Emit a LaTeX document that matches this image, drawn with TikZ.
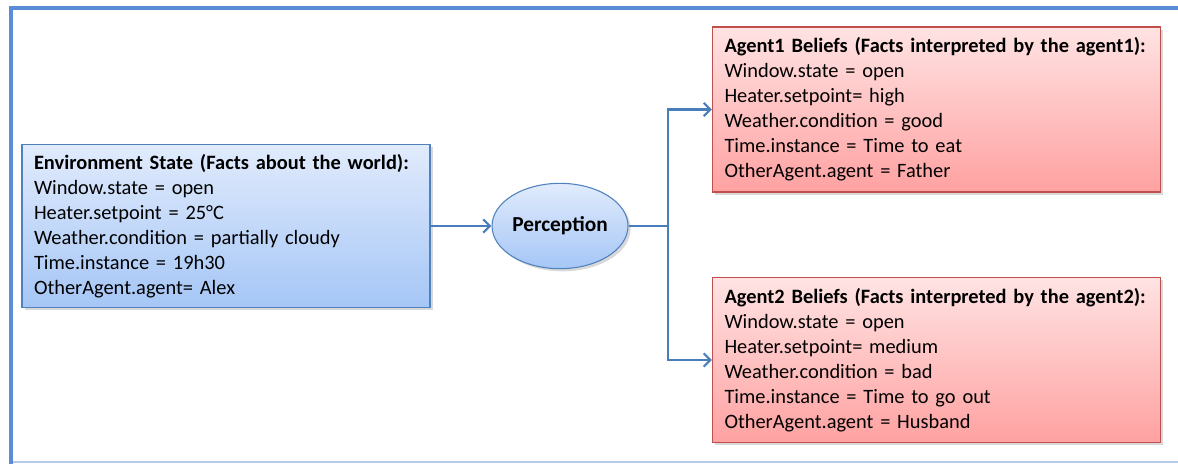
\documentclass[tikz,border=0pt]{standalone}
\usepackage{fontspec}
\setmainfont{Carlito}
\usetikzlibrary{arrows.meta,positioning,shapes.geometric,shadows}
\definecolor{frameblue}{HTML}{5B8DD6}
\definecolor{envline}{HTML}{4F81BD}
\definecolor{envtop}{HTML}{E1EBFC}
\definecolor{envbottom}{HTML}{A5C6F6}
\definecolor{agentline}{HTML}{C0504D}
\definecolor{agenttop}{HTML}{FFE3E3}
\definecolor{agentbottom}{HTML}{FFA1A1}
\definecolor{arrowblue}{HTML}{4A7EBB}

\begin{document}
\begin{tikzpicture}[x=0.75pt, y=-0.75pt,
  factbox/.style={rectangle, draw, line width=0.8pt, align=left, inner xsep=9pt,
    font=\fontsize{15.3}{18.75}\selectfont,
    drop shadow={shadow xshift=2pt, shadow yshift=-2pt, opacity=0.3}},
  envbox/.style={factbox, draw=envline, top color=envtop, bottom color=envbottom,
    text width=288pt, minimum height=122.25pt},
  agentbox/.style={factbox, draw=agentline, top color=agenttop, bottom color=agentbottom,
    text width=318pt, minimum height=123.75pt},
  percnode/.style={ellipse, draw=envline, line width=0.8pt, top color=envtop, bottom color=envbottom,
    inner sep=0pt, minimum width=102pt, minimum height=64pt, font=\fontsize{16}{18}\selectfont\bfseries,
    drop shadow={shadow xshift=2pt, shadow yshift=-2pt, opacity=0.3}},
  arr/.style={draw=arrowblue, line width=1.7pt, -{Straight Barb[length=5pt, width=10pt]}}]
\useasboundingbox (0,0) rectangle (1178,464);

% frame
\draw[envtop!70!envline, line width=1pt] (11,462) -- (1178,462);
\draw[frameblue, line width=2.8pt] (1178,8) -- (11,8) -- (11,464);

% nodes
\node[envbox] (env) at (226,226) {\textbf{Environment State (Facts about the world):}\\
  Window.state = open\\
  Heater.setpoint = 25°C\\
  Weather.condition = partially cloudy\\
  Time.instance = 19h30\\
  OtherAgent.agent= Alex};
\node[percnode] (perc) at (560,226) {Perception};
\node[agentbox] (agent1) at (936.5,109.5) {\textbf{Agent1 Beliefs (Facts interpreted by the agent1):}\\
  Window.state = open\\
  Heater.setpoint= high\\
  Weather.condition = good\\
  Time.instance = Time to eat\\
  OtherAgent.agent = Father};
\node[agentbox] (agent2) at (936.5,360) {\textbf{Agent2 Beliefs (Facts interpreted by the agent2):}\\
  Window.state = open\\
  Heater.setpoint= medium\\
  Weather.condition = bad\\
  Time.instance = Time to go out\\
  OtherAgent.agent = Husband};
\coordinate (split) at (668,226);

% connectors
\draw[arr] (env.east) -- (perc.west);
\draw[draw=arrowblue, line width=1.7pt] (perc.east) -- (split);
\draw[arr] (split) |- (agent1.west);
\draw[arr] (split) |- (agent2.west);
\end{tikzpicture}
\end{document}
